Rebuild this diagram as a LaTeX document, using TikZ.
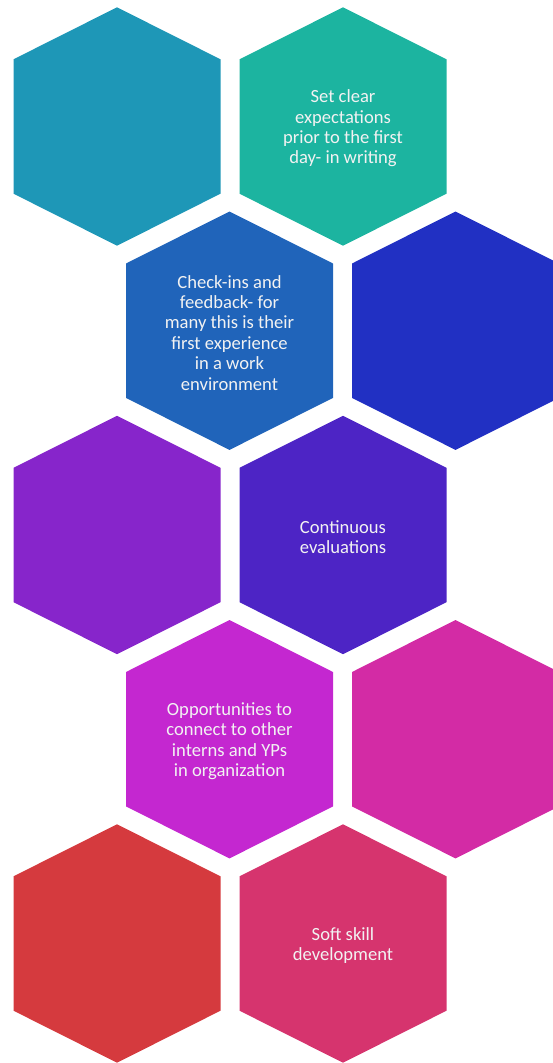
\documentclass[tikz,border=0pt]{standalone}
\usepackage{fontspec}
\setmainfont{Carlito}
\definecolor{hA}{HTML}{1E97B7}
\definecolor{hB}{HTML}{1CB4A0}
\definecolor{hC}{HTML}{2064BA}
\definecolor{hD}{HTML}{2130C3}
\definecolor{hE}{HTML}{8725CB}
\definecolor{hF}{HTML}{4D24C5}
\definecolor{hG}{HTML}{C427D0}
\definecolor{hH}{HTML}{D32BA5}
\definecolor{hI}{HTML}{D53A3E}
\definecolor{hJ}{HTML}{D6346E}
\definecolor{txt}{HTML}{F2F2F2}
\newcommand\HexTile[3]{%
  \fill[#3,shift={(#1,#2)}] (0,-119.2) -- (103.5,-67.2) -- (103.5,67.2) -- (0,119.2) -- (-103.5,67.2) -- (-103.5,-67.2) -- cycle;}
\tikzset{hextext/.style={text=txt,align=center,font=\fontsize{18.6}{20.4}\selectfont,inner sep=0pt,yshift=-2pt}}
\begin{document}
\begin{tikzpicture}[x=1pt,y=-1pt]
\useasboundingbox (0,0) rectangle (553,1063);
\clip (0,0) rectangle (553,1063);
\HexTile{117}{126.5}{hA}
\HexTile{343}{126.5}{hB}
\HexTile{229.5}{330.7}{hC}
\HexTile{455.5}{330.7}{hD}
\HexTile{117}{535}{hE}
\HexTile{343}{535}{hF}
\HexTile{229.5}{739.2}{hG}
\HexTile{455.5}{739.2}{hH}
\HexTile{117}{943.5}{hI}
\HexTile{343}{943.5}{hJ}
\node[hextext] (t1) at (343,126.5) {Set clear\\expectations\\prior to the first\\day- in writing};
\node[hextext] (t2) at (229.5,330.7) {Check-ins and\\feedback- for\\many this is their\\first experience\\in a work\\environment};
\node[hextext] (t3) at (343,535) {Continuous\\evaluations};
\node[hextext] (t4) at (229.5,739.2) {Opportunities to\\connect to other\\interns and YPs\\in organization};
\node[hextext] (t5) at (343,943.5) {Soft skill\\development};
\end{tikzpicture}
\end{document}
